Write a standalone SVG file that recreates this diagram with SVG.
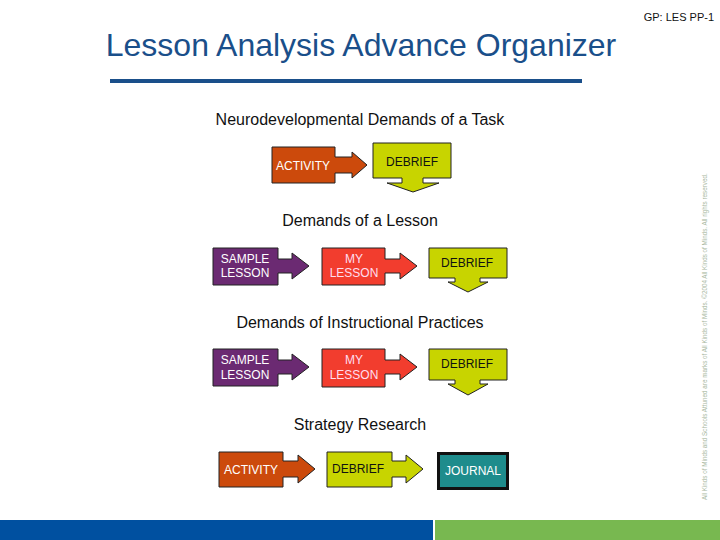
<svg xmlns="http://www.w3.org/2000/svg" width="720" height="540" viewBox="0 0 720 540">
<style>
text{font-family:"Liberation Sans",Arial,sans-serif}
.h{font-size:16px;fill:#111;text-anchor:middle}
.n{font-size:12px;text-anchor:middle}
.w{fill:#fff}
.k{fill:#111}
.shape{stroke:#222;stroke-width:1}
.org{fill:#cc4a0c}
.yel{fill:#c8d400}
.pur{fill:#6b2a72}
.red{fill:#f23d2e}
</style>
<rect width="720" height="540" fill="#fff"/>
<text x="714" y="21" font-size="11" text-anchor="end" fill="#111">GP: LES PP-1</text>
<text x="361" y="56" font-size="32" text-anchor="middle" fill="#1a4f8a">Lesson Analysis Advance Organizer</text>
<rect x="110" y="79" width="472" height="4" fill="#1a4f8a"/>
<text class="h" x="360" y="125">Neurodevelopmental Demands of a Task</text>
<text class="h" x="360" y="226">Demands of a Lesson</text>
<text class="h" x="360" y="328">Demands of Instructional Practices</text>
<text class="h" x="360" y="430">Strategy Research</text>
<g id="row1-activity">
<path class="shape org" d="M272,147 H335 V157 H352 V152 L367,165 L352,178 V173 H335 V183 H272 Z"/>
<text class="n w" x="303" y="170">ACTIVITY</text>
</g>
<g id="row1-debrief">
<path class="shape yel" d="M373,143 H451 V178 H423 V183 H439 L413,192 L387,183 H402 V178 H373 Z"/>
<text class="n k" x="412" y="166">DEBRIEF</text>
</g>
<g id="row2-sample">
<path class="shape pur" d="M213,248 H278 V259 H292 V253 L309,266 L292,279 V273 H278 V285 H213 Z"/>
<text class="n w" x="245" y="263">SAMPLE</text>
<text class="n w" x="245" y="277">LESSON</text>
</g>
<g id="row2-my">
<path class="shape red" d="M322,248 H385 V259 H400 V253 L417,266 L400,279 V273 H385 V285 H322 Z"/>
<text class="n" fill="#fde" x="354" y="263">MY</text>
<text class="n" fill="#fde" x="354" y="277">LESSON</text>
</g>
<g id="row2-debrief">
<path class="shape yel" d="M429,248 H507 V278 H480 V282 H488 L468,292 L448,282 H455 V278 H429 Z"/>
<text class="n k" x="467" y="267">DEBRIEF</text>
</g>
<g id="row3-sample">
<path class="shape pur" d="M213,349 H278 V360 H292 V354 L309,367 L292,380 V374 H278 V386 H213 Z"/>
<text class="n w" x="245" y="364">SAMPLE</text>
<text class="n w" x="245" y="379">LESSON</text>
</g>
<g id="row3-my">
<path class="shape red" d="M322,349 H385 V360 H400 V354 L417,367 L400,380 V374 H385 V387 H322 Z"/>
<text class="n" fill="#fde" x="354" y="364">MY</text>
<text class="n" fill="#fde" x="354" y="379">LESSON</text>
</g>
<g id="row3-debrief">
<path class="shape yel" d="M429,349 H507 V380 H480 V384 H488 L468,395 L448,384 H455 V380 H429 Z"/>
<text class="n k" x="467" y="368">DEBRIEF</text>
</g>
<g id="row4-activity">
<path class="shape org" d="M219,452 H283 V461 H298 V455 L315,469 L298,483 V477 H283 V487 H219 Z"/>
<text class="n w" x="251" y="474">ACTIVITY</text>
</g>
<g id="row4-debrief">
<path class="shape yel" d="M327,452 H392 V461 H406 V455 L423,469 L406,483 V477 H392 V487 H327 Z"/>
<text class="n k" x="358" y="473">DEBRIEF</text>
</g>
<g id="row4-journal">
<rect x="438.5" y="453.5" width="69" height="35" fill="#1e8c8c" stroke="#111" stroke-width="3"/>
<text class="n w" x="473" y="475">JOURNAL</text>
</g>
<g id="connectors"></g>
<text transform="translate(707,500) rotate(-90)" font-size="6.3" fill="#a8b8a0">All Kinds of Minds and Schools Attuned are marks of All Kinds of Minds. ©2004 All Kinds of Minds. All rights reserved.</text>
<rect x="0" y="520" width="433" height="20" fill="#0050a0"/>
<rect x="435" y="520" width="285" height="20" fill="#78b850"/>
</svg>
